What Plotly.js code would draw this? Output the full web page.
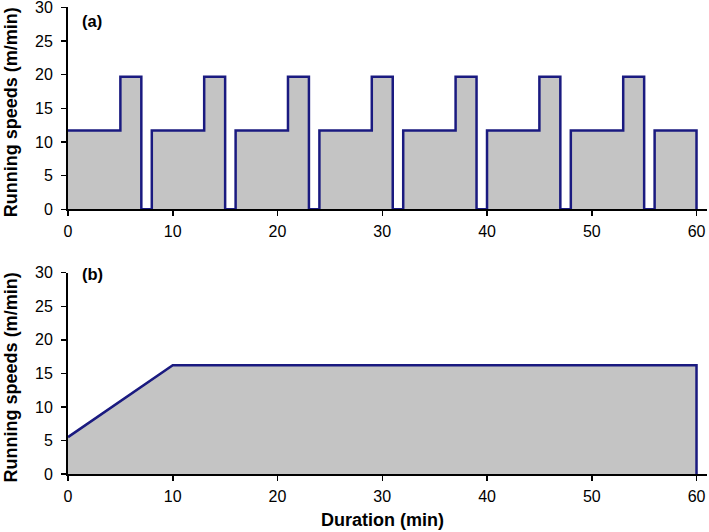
<!DOCTYPE html>
<html>
<head>
<meta charset="utf-8">
<script src="https://cdn.plot.ly/plotly-3.0.1.min.js"></script>
<style>html,body{margin:0;padding:0;background:#fff;}#chart{width:709px;height:532px;}</style>
</head>
<body>
<div id="chart"></div>
<script>
// Panel (a): interval running protocol (step changes, minutes vs m/min)
const intervalTimes  = [0, 5, 7, 8, 13, 15, 16, 21, 23, 24, 29, 31, 32, 37, 39, 40, 45, 47, 48, 53, 55, 56, 60];
const intervalSpeeds = [11.7, 19.7, 0, 11.7, 19.7, 0, 11.7, 19.7, 0, 11.7, 19.7, 0, 11.7, 19.7, 0, 11.7, 19.7, 0, 11.7, 19.7, 0, 11.7, 0];
// Panel (b): continuous running protocol
const continuousTimes  = [0, 10, 60, 60];
const continuousSpeeds = [5.5, 16.2, 16.2, 0];
const xTicks = [0, 10, 20, 30, 40, 50, 60];
const yTicks = [0, 5, 10, 15, 20, 25, 30];
const panelLabels = ['(a)', '(b)'];
const yTitle = 'Running speeds (m/min)';
const xTitle = 'Duration (min)';

const lineColor = '#1a1a80';
const fillColor = '#c4c4c4';
const font = 'Liberation Sans, Arial, sans-serif';

const traces = [
  {x: intervalTimes, y: intervalSpeeds, type: 'scatter', mode: 'lines',
   line: {shape: 'hv', color: lineColor, width: 2.5}, fill: 'tozeroy', fillcolor: fillColor,
   xaxis: 'x', yaxis: 'y', showlegend: false, hoverinfo: 'skip'},
  {x: continuousTimes, y: continuousSpeeds, type: 'scatter', mode: 'lines',
   line: {color: lineColor, width: 2.5}, fill: 'tozeroy', fillcolor: fillColor,
   xaxis: 'x2', yaxis: 'y2', showlegend: false, hoverinfo: 'skip'}
];

function xax(anchor) {
  return {anchor: anchor, range: [0, 61], tickvals: xTicks, ticktext: xTicks.map(String),
    ticks: 'outside', ticklen: 5, tickwidth: 1.5, tickcolor: '#000', ticklabelstandoff: 2,
    showline: true, linecolor: '#000', linewidth: 2, showgrid: false, zeroline: false,
    ticklabeloverflow: 'allow',
    tickfont: {family: font, size: 16, color: '#000'}, fixedrange: true};
}
function yax(anchor, domain) {
  return {anchor: anchor, domain: domain, range: [0, 30], tickvals: yTicks, ticktext: yTicks.map(String),
    ticks: 'outside', ticklen: 5, tickwidth: 1.5, tickcolor: '#000', ticklabelstandoff: 5,
    showline: true, linecolor: '#000', linewidth: 2, showgrid: false, zeroline: false,
    ticklabeloverflow: 'allow',
    tickfont: {family: font, size: 16, color: '#000'}, fixedrange: true};
}

const W = 709, H = 532, L = 68, R = 2;
const pw = W - L - R;
const titleFont = {family: font, size: 18, color: '#000', weight: 'bold'};
const labelFont = {family: font, size: 16.5, color: '#000', weight: 'bold'};

const layout = {
  width: W, height: H,
  margin: {l: L, r: R, t: 0, b: 0},
  paper_bgcolor: '#fff', plot_bgcolor: '#fff',
  font: {family: font, color: '#000'},
  xaxis: xax('y'),
  yaxis: yax('x', [0.6066, 0.9863]),
  xaxis2: xax('y2'),
  yaxis2: yax('x2', [0.109, 0.4874]),
  annotations: [
    {text: panelLabels[0], xref: 'x domain', yref: 'y domain', x: 0.018, y: 0.985, xanchor: 'left', yanchor: 'top',
     showarrow: false, font: labelFont},
    {text: panelLabels[1], xref: 'x2 domain', yref: 'y2 domain', x: 0.018, y: 1.048, xanchor: 'left', yanchor: 'top',
     showarrow: false, font: labelFont},
    {text: yTitle, xref: 'paper', yref: 'y domain', x: (11 - L) / pw, y: 0.48, xanchor: 'center', yanchor: 'middle',
     textangle: -90, showarrow: false, font: titleFont},
    {text: yTitle, xref: 'paper', yref: 'y2 domain', x: (11 - L) / pw, y: 0.48, xanchor: 'center', yanchor: 'middle',
     textangle: -90, showarrow: false, font: titleFont},
    {text: xTitle, xref: 'paper', yref: 'paper', x: (382 - L) / pw, y: 1 - 520 / H, xanchor: 'center', yanchor: 'middle',
     showarrow: false, font: titleFont}
  ]
};

Plotly.newPlot('chart', traces, layout, {displayModeBar: false, staticPlot: true});
</script>
</body>
</html>
